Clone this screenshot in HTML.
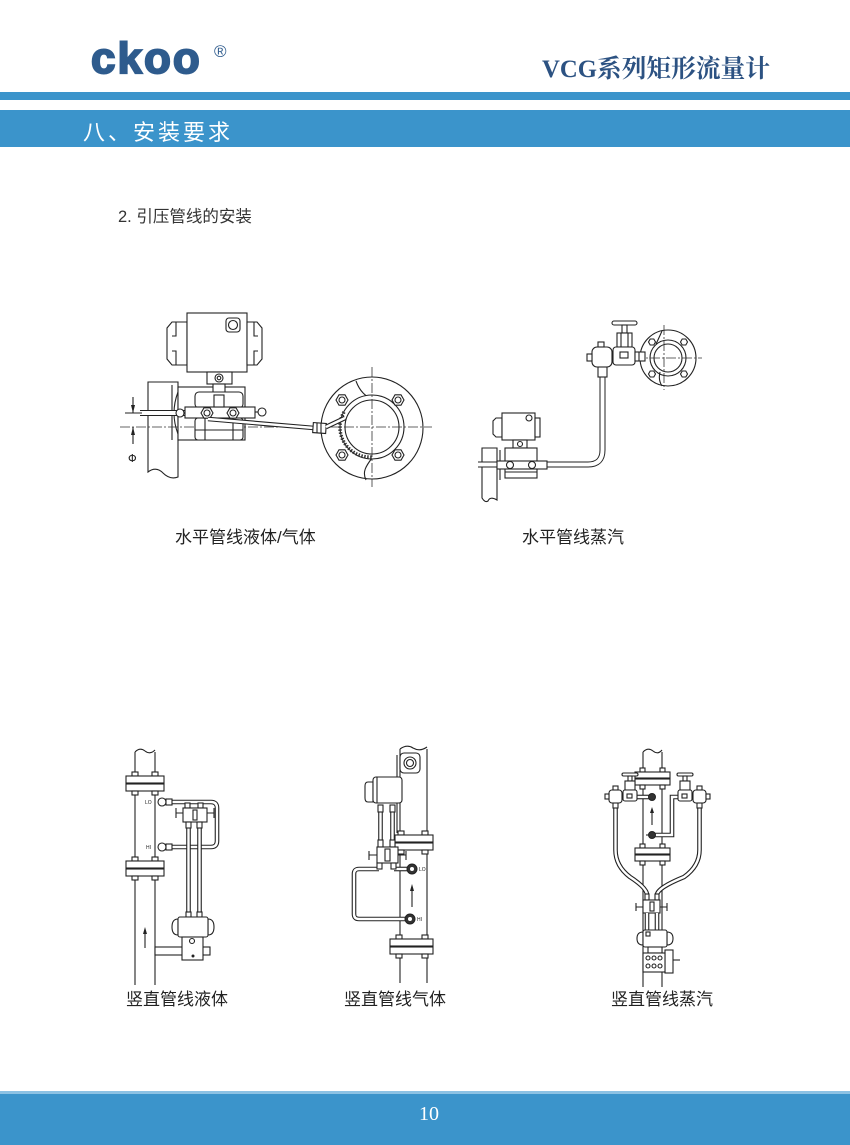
<!DOCTYPE html>
<html><head><meta charset="utf-8">
<style>
html,body{margin:0;padding:0;background:#fff;}
body{width:850px;height:1145px;position:relative;overflow:hidden;}
svg{position:absolute;left:0;top:0;}
.l{fill:none;stroke:#222;stroke-width:1.1}
.w{fill:#fff;stroke:#222;stroke-width:1.1}
.g{fill:#e8e8e8;stroke:#222;stroke-width:1}
.c{fill:none;stroke:#333;stroke-width:0.8;stroke-dasharray:10 2 2 2}
.t1{fill:none;stroke:#222;stroke-width:4.6}
.t2{fill:none;stroke:#fff;stroke-width:2.4}
.k{fill:#333;stroke:#222;stroke-width:1}
.cap{font-family:"Liberation Sans","Noto Sans CJK SC",sans-serif;font-size:17px;fill:#222}
</style></head><body>
<svg width="850" height="1145" viewBox="0 0 850 1145" xmlns="http://www.w3.org/2000/svg">
<!-- HEADER -->
<text x="91" y="73" font-family="Liberation Sans, sans-serif" font-weight="bold" font-size="44" letter-spacing="2" fill="#2e5b8d" stroke="#2e5b8d" stroke-width="2">ckoo</text>
<text x="214" y="57" font-family="Liberation Sans, sans-serif" font-size="17" fill="#2e5b8d">®</text>
<text x="542" y="77" textLength="228" lengthAdjust="spacingAndGlyphs" font-family="Liberation Serif, Noto Serif CJK SC, serif" font-weight="bold" font-size="25" fill="#2c5282">VCG系列矩形流量计</text>
<rect x="0" y="92" width="850" height="8" fill="#3b94cb"/>
<rect x="0" y="110" width="850" height="37" fill="#3b94cb"/>
<text x="83" y="140" font-family="Noto Sans CJK SC, sans-serif" font-size="22" letter-spacing="3" fill="#fff">八、安装要求</text>
<text x="118" y="222" font-family="Liberation Sans, Noto Sans CJK SC, sans-serif" font-size="16.5" fill="#333">2. 引压管线的安装</text>

<!-- ============ DIAGRAM 1: horizontal liquid/gas ============ -->
<path class="w" d="M148 382 H178 V477 Q170 480 163 473 Q156 466 148 472 Z"/>
<path class="l" d="M172 385 V440 M178 392 Q170 413 178 434"/>
<rect class="w" x="178" y="387" width="67" height="53"/>
<!-- flange -->
<circle class="w" cx="372" cy="428" r="51"/>
<path class="l" d="M356 381 C360 392 366 396 371 399 M372 458 C366 466 362 472 366 480"/>
<circle class="w" cx="372" cy="427" r="32"/>
<circle class="l" cx="372" cy="427" r="27"/>
<path d="M344 412 A30 30 0 0 0 372 457" fill="none" stroke="#333" stroke-width="3.5" stroke-dasharray="1.5 1.5"/>
<polygon class="w" points="348,400 345,405.2 339,405.2 336,400 339,394.8 345,394.8"/><circle class="l" cx="342" cy="400" r="3"/>
<polygon class="w" points="404,400 401,405.2 395,405.2 392,400 395,394.8 401,394.8"/><circle class="l" cx="398" cy="400" r="3"/>
<polygon class="w" points="348,455 345,460.2 339,460.2 336,455 339,449.8 345,449.8"/><circle class="l" cx="342" cy="455" r="3"/>
<polygon class="w" points="404,455 401,460.2 395,460.2 392,455 395,449.8 401,449.8"/><circle class="l" cx="398" cy="455" r="3"/>
<path class="c" d="M120 427 H432 M372 367 V487"/>
<!-- transmitter -->
<path class="w" d="M187 322 H172 L167 328 V359 L172 365 H187 Z"/>
<path class="l" d="M176 322 V336 H172 M176 365 V351 H172"/>
<rect class="w" x="187" y="313" width="60" height="59"/>
<path class="w" d="M247 322 H257 L262 328 V359 L257 365 H247 Z"/>
<path class="l" d="M254 322 V336 H258 M254 365 V351 H258"/>
<rect class="l" x="226" y="318" width="14" height="14" rx="3"/>
<circle class="l" cx="233" cy="325" r="4.5"/>
<rect class="w" x="207" y="372" width="25" height="12"/>
<circle class="l" cx="219" cy="378" r="4"/><circle class="l" cx="219" cy="378" r="1.8"/>
<!-- manifold -->
<rect class="w" x="213" y="384" width="12" height="10"/>
<rect class="w" x="195" y="392" width="48" height="16" rx="4"/>
<rect class="w" x="195" y="418" width="48" height="22" rx="3"/>
<path class="l" d="M205 418 V440 M233 418 V440 M195 430 H243"/>
<path class="t1" d="M140 413 H185" style="stroke-width:6"/><path class="t2" d="M140 413 H185" style="stroke-width:4"/>
<circle class="w" cx="180" cy="413" r="4"/>
<rect class="w" x="185" y="407" width="70" height="11"/>
<circle class="w" cx="262" cy="412" r="4"/>
<line class="l" x1="255" y1="412" x2="258" y2="412"/>
<rect class="w" x="214" y="395" width="10" height="12"/>
<polygon class="w" points="213,413 210,418.2 204,418.2 201,413 204,407.8 210,407.8"/><circle class="l" cx="207" cy="413" r="3"/>
<polygon class="w" points="239,413 236,418.2 230,418.2 227,413 230,407.8 236,407.8"/><circle class="l" cx="233" cy="413" r="3"/>
<!-- impulse tube -->
<path class="t1" d="M208 419 L314 428"/><path class="t2" d="M208 419 L314 428"/>
<rect class="w" x="313" y="423" width="13" height="10" transform="rotate(4 319 428)"/>
<path class="l" d="M317 423 V433 M321 423 V433"/>
<path class="t1" d="M326 427 L345 418"/><path class="t2" d="M326 427 L345 418"/>
<!-- dimension -->
<path class="l" d="M125 413 H142 M133 397 V413 M133 444 V427"/>
<polygon points="131,405 133,413 135,405" fill="#222"/>
<polygon points="131,435 133,427 135,435" fill="#222"/>
<text x="128" y="462" font-family="DejaVu Sans, sans-serif" font-size="11" fill="#222">Φ</text>

<text class="cap" x="175" y="543">水平管线液体/气体</text>

<!-- ============ DIAGRAM 2: horizontal steam ============ -->
<circle class="w" cx="668" cy="358" r="28"/>
<circle class="l" cx="668" cy="358" r="18"/>
<circle class="w" cx="668" cy="358" r="14"/>
<path class="l" d="M662 331 Q658 340 656 344 M660 372 Q658 380 662 386"/>
<polygon class="w" points="655.5,342 653.8,345 650.2,345 648.5,342 650.2,339 653.8,339"/>
<polygon class="w" points="687.5,342 685.8,345 682.2,345 680.5,342 682.2,339 685.8,339"/>
<polygon class="w" points="655.5,374 653.8,377 650.2,377 648.5,374 650.2,371 653.8,371"/>
<polygon class="w" points="687.5,374 685.8,377 682.2,377 680.5,374 682.2,371 685.8,371"/>
<path class="c" d="M634 358 H702 M664 325 V390"/>
<!-- valve -->
<rect class="w" x="612" y="321" width="25" height="4" rx="2"/>
<rect class="w" x="622" y="325" width="5" height="8"/>
<rect class="w" x="617" y="333" width="15" height="14"/>
<path class="l" d="M621 333 V347 M628 333 V347"/>
<rect class="w" x="613" y="347" width="22" height="18" rx="3"/>
<rect class="l" x="620" y="352" width="8" height="6"/>
<rect class="w" x="635" y="352" width="10" height="9"/>
<path class="l" d="M639 352 V361"/>
<!-- tee -->
<rect class="w" x="592" y="347" width="20" height="20" rx="5"/>
<rect class="w" x="587" y="354" width="5" height="7"/>
<rect class="w" x="598" y="342" width="6" height="5"/>
<!-- tube -->
<path class="t1" d="M602.5 377 V450 Q602.5 464.5 588 464.5 H538" style="stroke-width:6"/>
<path class="t2" d="M602.5 377 V450 Q602.5 464.5 588 464.5 H538" style="stroke-width:4"/>
<rect class="w" x="598" y="367" width="9" height="10"/>
<!-- stand -->
<path class="w" d="M482 448 H497 V500 Q490 496 488 501 Q485 503 482 498 Z"/>
<path class="l" d="M500 450 V480"/>
<path class="t1" d="M478 464.5 H500" style="stroke-width:6"/><path class="t2" d="M478 464.5 H500" style="stroke-width:4"/>
<!-- transmitter -->
<path class="w" d="M502 418 H496 L493 421 V434 L496 437 H502 Z"/>
<rect class="w" x="502" y="413" width="33" height="27"/>
<rect class="w" x="535" y="418" width="5" height="19"/>
<circle class="l" cx="529" cy="418" r="3"/>
<rect class="w" x="513" y="440" width="14" height="8"/>
<circle class="l" cx="520" cy="444" r="2.5"/>
<rect class="w" x="505" y="448" width="32" height="30"/>
<rect class="w" x="497" y="461" width="50" height="8"/>
<circle class="w" cx="510" cy="465" r="3.5"/><circle class="w" cx="532" cy="465" r="3.5"/>
<path class="l" d="M505 472 H537"/>

<text class="cap" x="522" y="543">水平管线蒸汽</text>

<!-- ============ DIAGRAM 3: vertical liquid ============ -->
<path class="l" d="M135 752 V985 M155 752 V985 M135 752 Q140 747 145 751 Q150 755 155 750"/>
<rect class="w" x="132" y="772" width="6" height="4"/><rect class="w" x="152" y="772" width="6" height="4"/>
<rect class="w" x="126" y="776" width="38" height="7"/>
<rect class="w" x="126" y="784" width="38" height="7"/>
<rect class="w" x="132" y="791" width="6" height="4"/><rect class="w" x="152" y="791" width="6" height="4"/>
<rect class="w" x="132" y="857" width="6" height="4"/><rect class="w" x="152" y="857" width="6" height="4"/>
<rect class="w" x="126" y="861" width="38" height="7"/>
<rect class="w" x="126" y="869" width="38" height="7"/>
<rect class="w" x="132" y="876" width="6" height="4"/><rect class="w" x="152" y="876" width="6" height="4"/>
<!-- loop tube -->
<path class="t1" d="M172 802 H211 Q217 802 217 808 V841 Q217 847 211 847 H172"/>
<path class="t2" d="M172 802 H211 Q217 802 217 808 V841 Q217 847 211 847 H172"/>
<circle class="w" cx="162" cy="802" r="4"/><rect class="w" x="166" y="799" width="6" height="6"/>
<circle class="w" cx="162" cy="847" r="4"/><rect class="w" x="166" y="844" width="6" height="6"/>
<text x="145" y="804" font-family="Liberation Sans, sans-serif" font-size="5" fill="#222">LO</text>
<text x="146" y="849" font-family="Liberation Sans, sans-serif" font-size="5" fill="#222">HI</text>
<!-- manifold -->
<rect class="w" x="185" y="803" width="5" height="5"/><rect class="w" x="198" y="803" width="5" height="5"/>
<rect class="w" x="183" y="808" width="24" height="14"/>
<rect class="l" x="193" y="810" width="4" height="10"/>
<path class="l" d="M176 808 V818 M176 813 H183 M214 808 V818 M207 813 H214"/>
<path class="t1" d="M188.5 828 V912 M199.5 828 V912"/><path class="t2" d="M188.5 828 V912 M199.5 828 V912"/>
<rect class="w" x="186" y="822" width="5" height="6"/><rect class="w" x="197" y="822" width="5" height="6"/>
<rect class="w" x="186" y="912" width="5" height="5"/><rect class="w" x="197" y="912" width="5" height="5"/>
<!-- transmitter -->
<rect class="w" x="155" y="947" width="55" height="8"/>
<path class="w" d="M178 919 Q172 919 172 927 Q172 935 178 935 Z"/>
<path class="w" d="M208 919 Q214 919 214 927 Q214 935 208 935 Z"/>
<rect class="w" x="178" y="917" width="30" height="20" rx="2"/>
<rect class="w" x="182" y="937" width="21" height="23"/>
<circle class="l" cx="192" cy="941" r="2.5"/>
<circle cx="193" cy="956" r="1.5" fill="#222"/>
<path class="l" d="M145 930 V948"/><polygon points="143,934 145,927 147,934" fill="#222"/>

<text class="cap" x="126" y="1005">竖直管线液体</text>

<!-- ============ DIAGRAM 4: vertical gas ============ -->
<path class="l" d="M400 749 V983 M427 749 V983 M400 749 Q407 744 413 748 Q420 752 427 747"/>
<path class="l" d="M397 755 V833"/>
<rect class="w" x="400" y="753" width="20" height="20" rx="4"/>
<circle class="l" cx="410" cy="763" r="6"/><circle class="l" cx="410" cy="763" r="3.5"/>
<!-- transmitter -->
<path class="w" d="M373 782 H368 Q365 782 365 786 V798 Q365 802 368 802 H373 Z"/>
<rect class="w" x="373" y="777" width="29" height="26" rx="3"/>
<path class="l" d="M377 777 V803"/>
<path class="t1" d="M380.5 812 V840 M392.5 812 V840"/><path class="t2" d="M380.5 812 V840 M392.5 812 V840"/>
<rect class="w" x="378" y="805" width="5" height="7"/><rect class="w" x="390" y="805" width="5" height="7"/>
<!-- upper flange -->
<rect class="w" x="398" y="831" width="6" height="4"/><rect class="w" x="422" y="831" width="6" height="4"/>
<rect class="w" x="395" y="835" width="38" height="7"/>
<rect class="w" x="395" y="843" width="38" height="7"/>
<rect class="w" x="398" y="850" width="6" height="4"/><rect class="w" x="422" y="850" width="6" height="4"/>
<rect class="w" x="378" y="840" width="5" height="7"/><rect class="w" x="390" y="840" width="5" height="7"/>
<!-- manifold -->
<rect class="w" x="377" y="847" width="21" height="16"/>
<rect class="l" x="385" y="849" width="5" height="12"/>
<path class="l" d="M369 851 V860 M369 855 H377 M406 851 V860 M398 855 H406"/>
<!-- loop -->
<path class="t1" d="M379 869 H359 Q354 869 354 874 V914 Q354 919 359 919 H406"/>
<path class="t2" d="M379 869 H359 Q354 869 354 874 V914 Q354 919 359 919 H406"/>
<path class="t1" d="M394 869 H408"/><path class="t2" d="M394 869 H408"/>
<rect class="w" x="377" y="863" width="5" height="6"/><rect class="w" x="391" y="863" width="5" height="6"/>
<circle class="k" cx="412" cy="869" r="5"/><circle cx="412" cy="869" r="2" fill="#fff"/>
<circle class="k" cx="410" cy="919" r="5"/><circle cx="410" cy="919" r="2" fill="#fff"/>
<text x="419" y="871" font-family="Liberation Sans, sans-serif" font-size="5" fill="#222">LO</text>
<text x="417" y="921" font-family="Liberation Sans, sans-serif" font-size="5" fill="#222">HI</text>
<path class="l" d="M412 890 V907"/><polygon points="410,891 412,884 414,891" fill="#222"/>
<!-- lower flange -->
<rect class="w" x="396" y="935" width="6" height="4"/><rect class="w" x="422" y="935" width="6" height="4"/>
<rect class="w" x="390" y="939" width="43" height="7"/>
<rect class="w" x="390" y="947" width="43" height="7"/>
<rect class="w" x="396" y="954" width="6" height="4"/><rect class="w" x="422" y="954" width="6" height="4"/>

<text class="cap" x="344" y="1005">竖直管线气体</text>

<!-- ============ DIAGRAM 5: vertical steam ============ -->
<path class="l" d="M643 752 V987 M662 752 V987 M643 752 Q648 747 653 751 Q658 755 662 750"/>
<rect class="w" x="640" y="768" width="5" height="4"/><rect class="w" x="660" y="768" width="5" height="4"/>
<rect class="w" x="635" y="772" width="35" height="6"/>
<rect class="w" x="635" y="779" width="35" height="6"/>
<rect class="w" x="640" y="785" width="5" height="4"/><rect class="w" x="660" y="785" width="5" height="4"/>
<rect class="w" x="640" y="844" width="5" height="4"/><rect class="w" x="660" y="844" width="5" height="4"/>
<rect class="w" x="635" y="848" width="35" height="6"/>
<rect class="w" x="635" y="855" width="35" height="6"/>
<rect class="w" x="640" y="861" width="5" height="4"/><rect class="w" x="660" y="861" width="5" height="4"/>
<!-- connection tubes to taps -->
<path class="t1" d="M637 797 H650"/><path class="t2" d="M637 797 H650"/>
<path class="t1" d="M678 797 H672 V835 H655"/><path class="t2" d="M678 797 H672 V835 H655"/>
<circle class="k" cx="652" cy="797" r="3.5"/>
<circle class="k" cx="652" cy="835" r="3.5"/>
<path class="l" d="M646 835 H649"/>
<path class="l" d="M652 811 V825"/><polygon points="650,813 652,807 654,813" fill="#222"/>
<!-- left valve -->
<rect class="w" x="622" y="773" width="16" height="3" rx="1.5"/>
<rect class="w" x="628" y="776" width="4" height="5"/>
<rect class="w" x="625" y="781" width="10" height="9"/>
<rect class="w" x="623" y="790" width="14" height="11" rx="2"/>
<rect class="l" x="627" y="794" width="5" height="4"/>
<!-- right valve -->
<rect class="w" x="677" y="773" width="16" height="3" rx="1.5"/>
<rect class="w" x="683" y="776" width="4" height="5"/>
<rect class="w" x="680" y="781" width="10" height="9"/>
<rect class="w" x="678" y="790" width="14" height="11" rx="2"/>
<rect class="l" x="682" y="794" width="5" height="4"/>
<!-- pots -->
<rect class="w" x="609" y="790" width="13" height="13" rx="3"/>
<rect class="w" x="605" y="794" width="4" height="5"/>
<rect class="w" x="613" y="786" width="5" height="4"/>
<rect class="w" x="693" y="790" width="13" height="13" rx="3"/>
<rect class="w" x="706" y="794" width="4" height="5"/>
<rect class="w" x="697" y="786" width="5" height="4"/>
<!-- long tubes -->
<path class="t1" d="M615.5 808 V850 Q615.5 866 630 877 Q647 888 647 895"/>
<path class="t2" d="M615.5 808 V850 Q615.5 866 630 877 Q647 888 647 895"/>
<path class="t1" d="M699.5 808 V850 Q699.5 866 684 877 Q657 888 657 895"/>
<path class="t2" d="M699.5 808 V850 Q699.5 866 684 877 Q657 888 657 895"/>
<rect class="w" x="613" y="803" width="5" height="5"/>
<rect class="w" x="697" y="803" width="5" height="5"/>
<!-- manifold -->
<rect class="w" x="645" y="894" width="4" height="6"/><rect class="w" x="655" y="894" width="4" height="6"/>
<rect class="w" x="643" y="900" width="17" height="13"/>
<rect class="l" x="650" y="902" width="4" height="9"/>
<path class="l" d="M636 903 V911 M636 907 H643 M667 903 V911 M660 907 H667"/>
<path class="t1" d="M647 913 V930 M657 913 V930"/><path class="t2" d="M647 913 V930 M657 913 V930"/>
<!-- transmitter -->
<path class="w" d="M643 932 Q637 932 637 938.5 Q637 945 643 945 Z"/>
<path class="w" d="M667 932 Q673 932 673 938.5 Q673 945 667 945 Z"/>
<rect class="w" x="643" y="930" width="24" height="17" rx="2"/>
<rect class="l" x="646" y="932" width="4" height="4"/>
<rect class="w" x="648" y="947" width="14" height="6"/>
<rect class="w" x="665" y="950" width="8" height="23"/>
<path class="l" d="M673 960 H680"/>
<rect class="w" x="643" y="953" width="22" height="19"/>
<circle class="l" cx="648" cy="958" r="2"/><circle class="l" cx="654" cy="958" r="2"/><circle class="l" cx="660" cy="958" r="2"/>
<circle class="l" cx="648" cy="966" r="2"/><circle class="l" cx="654" cy="966" r="2"/><circle class="l" cx="660" cy="966" r="2"/>

<text class="cap" x="611" y="1005">竖直管线蒸汽</text>

<!-- FOOTER -->
<rect x="0" y="1091" width="850" height="3" fill="#8cc2e4"/>
<rect x="0" y="1094" width="850" height="51" fill="#3b94cb"/>
<text x="429" y="1120" text-anchor="middle" font-family="Liberation Serif, serif" font-size="20" fill="#fff">10</text>
</svg>
</body></html>
